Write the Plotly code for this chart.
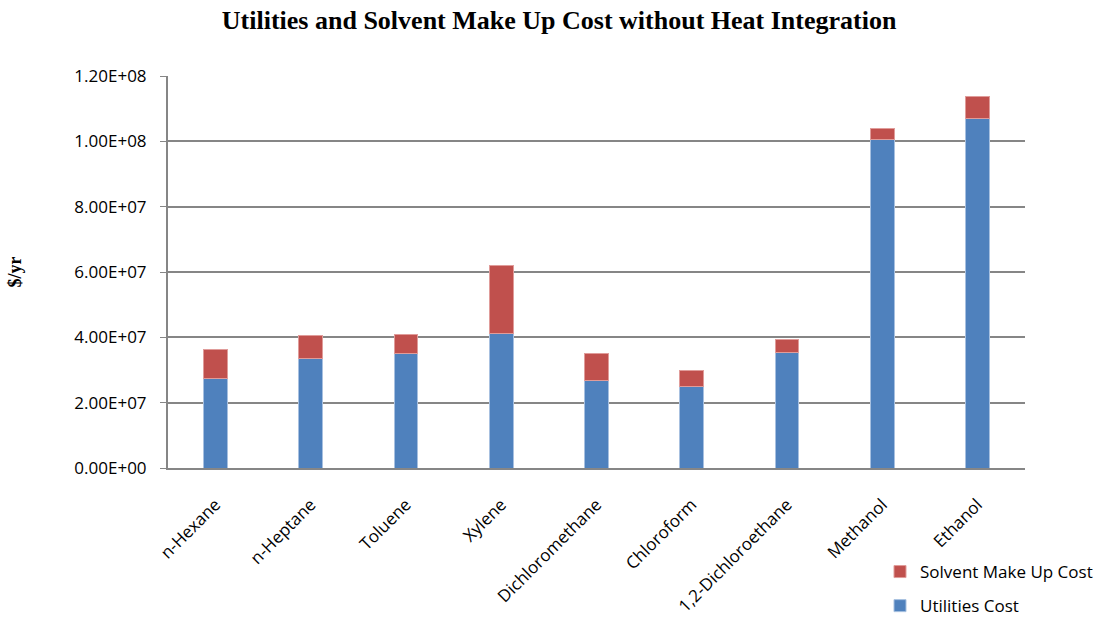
import plotly.graph_objects as go

solvents = ["n-Hexane", "n-Heptane", "Toluene", "Xylene", "Dichloromethane",
            "Chloroform", "1,2-Dichloroethane", "Methanol", "Ethanol"]
utilities_cost = [27.4e6, 33.5e6, 35.2e6, 41.2e6, 26.7e6, 24.9e6, 35.5e6, 100.7e6, 107.1e6]
solvent_total = [36.2e6, 40.5e6, 40.8e6, 62.1e6, 35.2e6, 30.0e6, 39.3e6, 103.9e6, 113.7e6]
makeup_cost = [t - u for t, u in zip(solvent_total, utilities_cost)]

y_ticks = [0, 2e7, 4e7, 6e7, 8e7, 1e8, 1.2e8]
y_tick_labels = ["0.00E+00", "2.00E+07", "4.00E+07", "6.00E+07", "8.00E+07", "1.00E+08", "1.20E+08"]

BLUE = "#4F81BD"
RED = "#C0504D"
GRID = "#868686"
LABEL_FONT = "Open Sans, Liberation Sans, sans-serif"
SERIF = "Liberation Serif, Times New Roman, serif"

fig = go.Figure()
fig.add_trace(go.Bar(
    x=solvents, y=utilities_cost, name="Utilities Cost",
    marker=dict(color=BLUE, line=dict(color="#A7C0E0", width=1)),
    legendgroup="u", legendrank=2,
))
fig.add_trace(go.Bar(
    x=solvents, y=makeup_cost, name="Solvent Make Up Cost",
    marker=dict(color=RED, line=dict(color="#E09C9A", width=1)),
    legendgroup="s", legendrank=1,
))

fig.update_layout(
    width=1105, height=617,
    barmode="stack", bargap=0.75,
    plot_bgcolor="white", paper_bgcolor="white",
    margin=dict(l=168, r=80, t=76, b=149, autoexpand=False),
    title=dict(
        text="<b>Utilities and Solvent Make Up Cost without Heat Integration</b>",
        x=0.506, xanchor="center", y=0.968, yanchor="middle",
        font=dict(family=SERIF, size=26, color="black"),
    ),
    font=dict(family=LABEL_FONT, size=17, color="black"),
    legend=dict(
        x=880 / 1105, xref="container", xanchor="left",
        y=1 - 554 / 617, yref="container", yanchor="top",
        traceorder="grouped", tracegroupgap=9,
        font=dict(family=LABEL_FONT, size=17, color="black"),
        itemwidth=30, bgcolor="rgba(0,0,0,0)",
    ),
)

fig.update_yaxes(
    range=[0, 1.2e8], tickvals=y_ticks, ticktext=y_tick_labels,
    showgrid=True, gridcolor=GRID, gridwidth=2,
    showline=True, linecolor=GRID, linewidth=2,
    ticks="outside", ticklen=6, tickcolor=GRID, ticklabelstandoff=10,
    zeroline=False,
    title=dict(text="<b>$/yr</b>", standoff=48,
               font=dict(family=SERIF, size=18, color="black")),
)
fig.update_xaxes(
    tickangle=-45, showline=True, linecolor=GRID, linewidth=2,
    ticks="", showgrid=False, ticklabelstandoff=18,
)

fig.write_html("out.html")
